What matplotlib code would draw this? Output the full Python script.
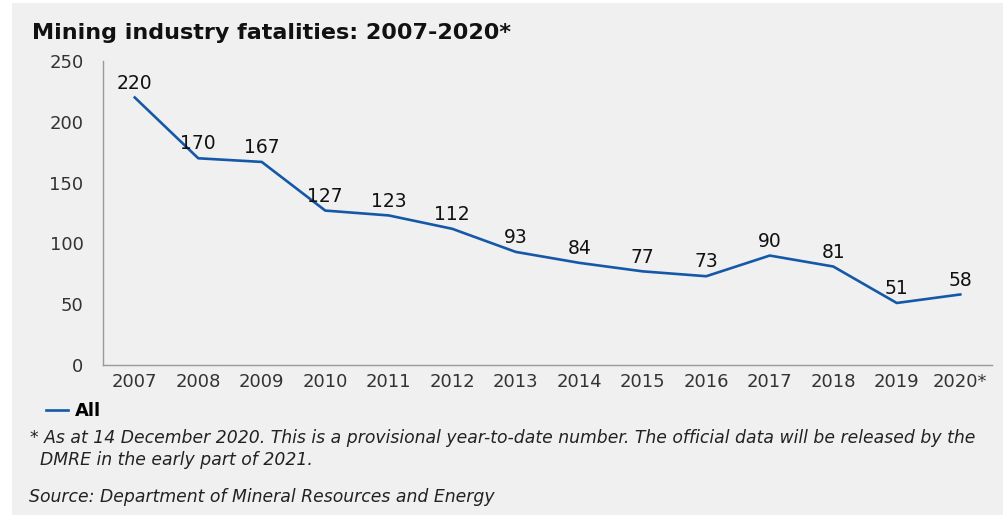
import matplotlib.pyplot as plt
from matplotlib.patches import Rectangle

years = ["2007", "2008", "2009", "2010", "2011", "2012", "2013",
         "2014", "2015", "2016", "2017", "2018", "2019", "2020*"]
fatalities = [220, 170, 167, 127, 123, 112, 93, 84, 77, 73, 90, 81, 51, 58]
y_ticks = [0, 50, 100, 150, 200, 250]

plt.rcParams["font.family"] = ["DejaVu Sans"]
bg = "#f0f0f0"
line_col = "#1558a8"

fig = plt.figure(figsize=(10.04, 5.15), dpi=100, facecolor="white")
# grey panel, leaving a thin white strip left and top
fig.patches.append(Rectangle((12 / 1004, 0), 1, 512 / 515, transform=fig.transFigure,
                             facecolor=bg, edgecolor="none", zorder=-1))

ax = fig.add_axes([103 / 1004, 1 - 365 / 515, (992 - 103) / 1004, (365 - 61) / 515])
ax.set_facecolor(bg)
x = list(range(len(years)))
ax.plot(x, fatalities, color=line_col, lw=1.9, label="All")
for xi, v in zip(x, fatalities):
    ax.annotate(str(v), (xi, v), xytext=(0, 3.5), textcoords="offset points",
                ha="center", va="bottom", fontsize=13.5, color="#111111")

ax.set_xlim(-0.5, len(years) - 0.5)
ax.set_ylim(0, 250)
ax.set_xticks(x)
ax.set_xticklabels(years)
ax.set_yticks(y_ticks)
ax.tick_params(length=0, labelsize=13, colors="#333333")
ax.tick_params(axis="y", pad=14)
ax.tick_params(axis="x", pad=6)
for s in ["top", "right"]:
    ax.spines[s].set_visible(False)
for s in ["left", "bottom"]:
    ax.spines[s].set_color("#999999")
    ax.spines[s].set_linewidth(1)

fig.text(32 / 1004, 1 - 33 / 515, "Mining industry fatalities: 2007-2020*", fontsize=16,
         fontweight="bold", va="center", ha="left", color="#111111")

leg = fig.legend(loc="center left", bbox_to_anchor=(30 / 1004, 1 - 411 / 515), frameon=False,
                 handlelength=1.2, handletextpad=0.4, prop={"size": 13, "weight": "bold"})

fig.text(30 / 1004, 1 - 438 / 515,
         "* As at 14 December 2020. This is a provisional year-to-date number. The official data will be released by the",
         fontsize=12.4, style="italic", va="center", color="#222222")
fig.text(40 / 1004, 1 - 460 / 515, "DMRE in the early part of 2021.",
         fontsize=12.4, style="italic", va="center", color="#222222")
fig.text(29 / 1004, 1 - 497 / 515, "Source: Department of Mineral Resources and Energy",
         fontsize=12.4, style="italic", va="center", color="#222222")

fig.savefig("out.png", dpi=100, facecolor=fig.get_facecolor())
